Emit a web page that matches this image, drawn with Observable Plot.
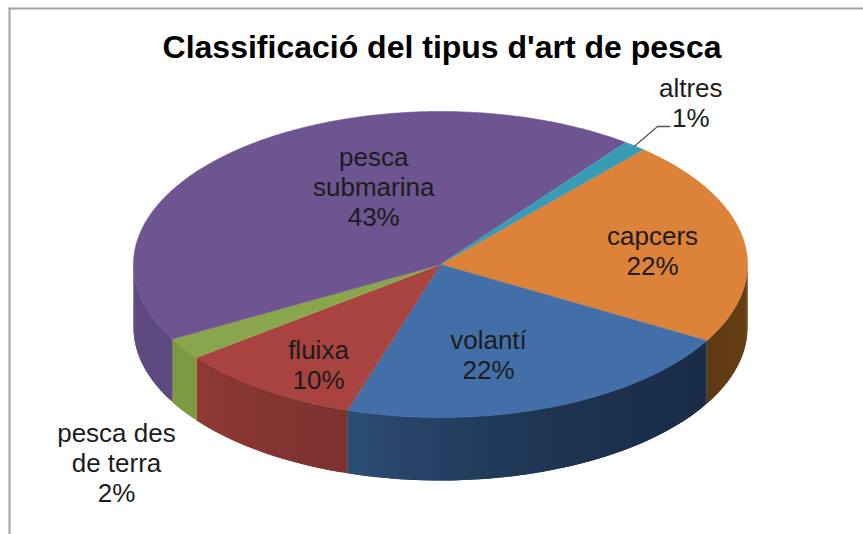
<!DOCTYPE html>
<html>
<head>
<meta charset="utf-8">
<script src="https://cdn.jsdelivr.net/npm/d3@7"></script>
<script src="https://cdn.jsdelivr.net/npm/@observablehq/plot@0.6"></script>
<style>
html,body{margin:0;padding:0;background:#fff}
svg{display:block}
</style>
</head>
<body>
<div id="chart"></div>
<script>
// Data (share of the pie, clockwise from the "capcers" start)
const categories = ["capcers", "volantí", "fluixa", "pesca des terra", "pesca submarina", "altres"];
const shares     = [21.8, 21.6, 9.7, 2.3, 43.4, 1.2];
const labels     = ["capcers\n22%", "volantí\n22%", "fluixa\n10%", "pesca des\nde terra\n2%", "pesca\nsubmarina\n43%", "altres\n1%"];
const titleText  = "Classificació del tipus d'art de pesca";

// Styling
const topColors   = ["#dc8239", "#436fa8", "#a8433f", "#8aa64c", "#6e5490", "#3a9bb6"];
const sideFrom    = ["#6f4414", "#1a2d48", "#7f3330", "#7d9a42", "#5e4a80", "#2b7a90"];
const sideTo      = ["#5e3a14", "#2c4d74", "#923935", "#7d9a42", "#624d86", "#2b7a90"];
const labelTheta  = [-7.6, 75.1, 121.3, 129.2, 247, -52.4];
const labelRadius = [0.697, 0.608, 0.765, 1.67, 0.557, 1.336];
const W = 863, H = 534;
const cx = 440, cy = 264, rx = 307, ry = 153;   // pie ellipse placement
const depth = 63 / ry;                          // wall height in ellipse units
const startAngle = -48.6;                       // degrees, clockwise from east

const rad = d => d * Math.PI / 180;
const pt = (deg, r = 1, dy = 0) => ({x: r * Math.cos(rad(deg)), y: r * Math.sin(rad(deg)) + dy});

// Turn shares into angular extents
let acc = startAngle;
const slices = categories.map((name, i) => {
  const a0 = acc;
  acc += shares[i] * 3.6;
  return {name, i, a0, a1: acc, mid: (a0 + acc) / 2};
});

// Top faces
const topPts = slices.flatMap(s => {
  const n = Math.max(2, Math.ceil(s.a1 - s.a0));
  const rim = d3.range(n + 1).map(k => pt(s.a0 + (s.a1 - s.a0) * k / n));
  return [{x: 0, y: 0}, ...rim].map(p => ({...p, z: s.name, c: topColors[s.i]}));
});

// Visible walls (front half of the ellipse): small quads, each overlapping the next to avoid seams
const wallPts = slices.flatMap(s => {
  const out = [];
  const n = Math.max(2, Math.ceil(s.a1 - s.a0));
  const step = (s.a1 - s.a0) / n;
  for (let k = 0; k < n; k++) {
    const a = s.a0 + step * k;
    const b = k === n - 1 ? s.a1 : a + 2 * step;
    if (Math.sin(rad(a + step / 2)) <= 0) continue;
    const t = (k + .5) / n;
    const c = d3.interpolateRgb(sideFrom[s.i], sideTo[s.i])(t * t);
    const z = s.name + k;
    [pt(a), pt(b), pt(b, 1, depth), pt(a, 1, depth)].forEach(p => out.push({...p, z, c}));
  }
  return out;
});

const labelRows = slices.map((s, i) => ({...pt(labelTheta[i], labelRadius[i]), text: labels[i]}));
const elbow = pt(-51.9, 1.146);
const leader = [pt(slices[5].mid), elbow, {x: elbow.x + 0.04, y: elbow.y}];

const chart = Plot.plot({
  width: W, height: H,
  margin: 0,
  style: {background: "#fff", fontFamily: "'Liberation Sans', Arial, sans-serif"},
  x: {domain: [-cx / rx, (W - cx) / rx], range: [0, W], axis: null},
  y: {domain: [-cy / ry, (H - cy) / ry], range: [0, H], axis: null},
  color: {type: "identity"},
  marks: [
    Plot.frame({anchor: "left", stroke: "#a3a3a3", strokeWidth: 2, insetLeft: 9, insetTop: 8}),
    Plot.frame({anchor: "top", stroke: "#a3a3a3", strokeWidth: 2, insetTop: 8, insetLeft: 9}),
    Plot.line(wallPts, {x: "x", y: "y", z: "z", fill: "c", stroke: "none"}),
    Plot.line(topPts, {x: "x", y: "y", z: "z", fill: "c", stroke: "c", strokeWidth: 0.6}),
    Plot.line(leader, {x: "x", y: "y", stroke: "#555", strokeWidth: 1.3}),
    Plot.text(labelRows, {x: "x", y: "y", text: "text", fontSize: 26, lineHeight: 1.155, fill: "#1c1c1c", textAnchor: "middle"}),
    Plot.text([titleText], {frameAnchor: "top", dx: 10, dy: 35, fontSize: 32, fontWeight: "bold", fill: "#000", lineAnchor: "top"})
  ]
});
document.getElementById("chart").append(chart);
</script>
</body>
</html>
